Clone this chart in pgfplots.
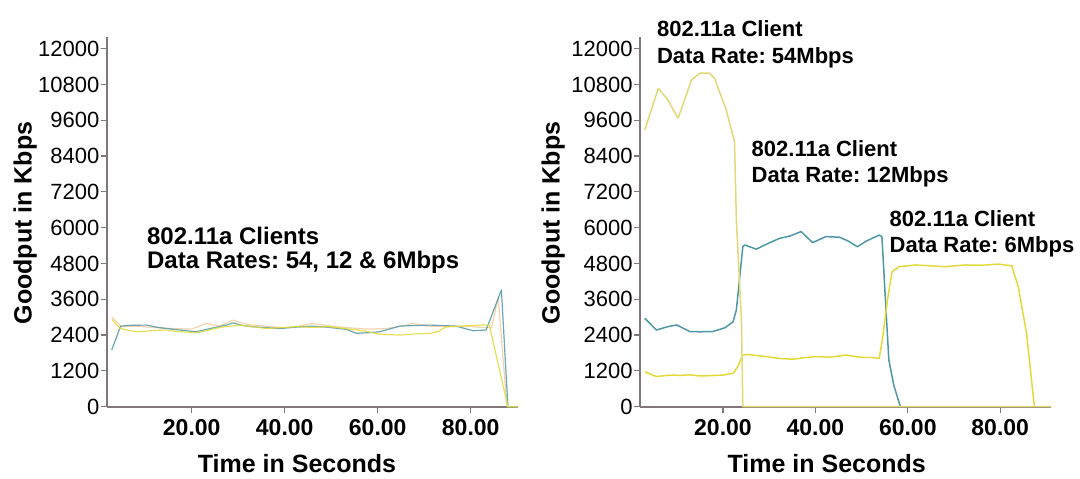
\documentclass[border=0pt]{standalone}
\usepackage{fontspec}
\setmainfont{Liberation Sans}
\usepackage{pgfplots}
\pgfplotsset{compat=1.18}
\frenchspacing

\definecolor{tealline}{RGB}{78,152,166}
\definecolor{yelline}{RGB}{226,218,58}
\definecolor{paleline}{RGB}{226,216,120}
\definecolor{peachline}{RGB}{242,204,160}
\definecolor{axisgray}{RGB}{128,118,124}

\pgfplotsset{
  goodput/.style={
    set layers,
    scale only axis,
    width=205.65pt, height=185pt,
    ymin=0, ymax=12400,
    axis lines=left,
    axis line style={-, draw=axisgray, line width=0.8pt},
    scaled y ticks=false,
    ytick={0,1200,2400,3600,4800,6000,7200,8400,9600,10800,12000},
    yticklabels={0,1200,2400,3600,4800,6000,7200,8400,9600,10800,12000},
    xtick={20,40,60,80},
    xticklabels={20.00,40.00,60.00,80.00},
    tick align=outside,
    major tick length=3pt,
    tick style={draw=axisgray, line width=0.6pt},
    yticklabel style={font=\fontsize{11}{13}\selectfont, inner sep=0.5pt},
    xticklabel style={font=\bfseries\fontsize{11.5}{13}\selectfont},
    clip=false,
    /pgf/number format/assume math mode=true,
  },
  rate/.style={line width=0.75pt, line join=round},
  thin rate/.style={line width=0.6pt, line join=round, opacity=0.85},
}

\newcommand{\lbl}{\bfseries\fontsize{12.5}{14}\selectfont}

\begin{document}
\begin{tikzpicture}
% page frame, 540pt x 238pt
\path (0,0) rectangle (540pt,238pt);

% ---------------- all three clients at once ----------------
\begin{axis}[goodput, at={(53.35pt,34.65pt)}, anchor=south west,
             xmin=1.72, xmax=90.17]
\addplot[thin rate, peachline] coordinates {
 (2.8,3010)(4.9,2680)(8,2700)(12,2650)(16,2620)(20,2600)(23.1,2790)(26,2700)
 (28.9,2900)(32,2750)(36,2700)(40,2640)(43,2700)(46.1,2790)(50,2700)(54,2640)
 (58,2600)(62,2620)(65,2700)(67.6,2790)(71,2700)(75,2680)(79,2700)(82,2660)
 (84.5,2650)(85.9,3680)(87.8,0)(90.17,0)};
\addplot[thin rate, tealline] coordinates {
 (2.8,1900)(4.7,2700)(7,2730)(10.3,2735)(13,2650)(17.4,2570)(21,2510)(24,2620)
 (27.5,2735)(28.9,2810)(31,2720)(33.2,2680)(36,2650)(38.9,2620)(42,2660)
 (46.1,2700)(50,2650)(53.3,2590)(55.4,2460)(58,2480)(60.4,2510)(62.5,2600)
 (64.7,2700)(68,2720)(71.2,2735)(74,2720)(76.9,2700)(80.5,2545)(83.3,2570)
 (84.4,3010)(86.6,3910)(88,0)(90.17,0)};
\addplot[thin rate, yelline, on layer=axis foreground] coordinates {
 (2.8,2925)(4.6,2620)(8.2,2510)(11,2540)(13.9,2570)(17,2520)(21,2480)(23.5,2560)
 (26.1,2660)(30.4,2735)(33,2680)(36.1,2620)(39,2650)(42.6,2680)(46,2660)
 (49.7,2680)(53,2620)(56.9,2545)(60.5,2430)(64.8,2400)(68,2440)(71.2,2455)
 (73,2520)(74.7,2680)(78,2700)(81.9,2735)(84,2735)(88,0)(90.17,0)};
\end{axis}

% ---------------- clients one after another ----------------
\begin{axis}[goodput, at={(320pt,34.65pt)}, anchor=south west,
             xmin=2.05, xmax=91.06]
% 12 Mbps client
\addplot[rate, tealline] coordinates {
 (3.1,2960)(5.6,2570)(8,2680)(10,2740)(12.8,2520)(15,2510)(17.8,2520)(18.9,2570)
 (20.5,2650)(22.2,2850)(22.9,3240)(24.3,5360)(24.7,5420)(27.2,5280)(29.5,5450)
 (32.2,5640)(34.5,5720)(36.9,5870)(39.4,5500)(42.3,5700)(45.2,5680)(47,5560)
 (49.1,5360)(51,5550)(53.8,5750)(54.4,5700)(55.3,3200)(55.9,1560)(57,700)
 (58.4,0)};
% 6 Mbps client
\addplot[rate, yelline] coordinates {
 (3.1,1170)(5.6,1010)(8.5,1060)(11,1050)(12.8,1070)(15,1030)(17.1,1040)(20,1060)
 (22.2,1120)(23.2,1340)(24.3,1730)(25.4,1750)(27,1720)(29.4,1680)(32,1620)
 (35.1,1590)(37.5,1640)(40.1,1680)(43,1660)(46.6,1730)(49.5,1660)(52,1650)
 (53.8,1620)(54.5,2240)(55.6,3580)(56.6,4530)(58.1,4690)(61.7,4750)(65,4720)
 (68.1,4690)(72.4,4750)(76,4740)(79.6,4780)(82.5,4720)(83.9,4020)(85.7,2460)
 (87.2,280)(87.4,0)};
% 54 Mbps client
\addplot[rate, paleline, on layer=axis foreground] coordinates {
 (3.1,9280)(6.0,10670)(8,10300)(10.3,9670)(13.2,10950)(15,11175)(17.1,11175)
 (18.2,11000)(20.7,9950)(22.5,8880)(22.9,6260)(24,2900)(24.3,0)(91.06,0)};
\end{axis}

% axis titles
\node[rotate=90, anchor=base] at (15.85pt,126.5pt) {\lbl Goodput in Kbps};
\node[rotate=90, anchor=base] at (279.75pt,126.5pt) {\lbl Goodput in Kbps};
\node[anchor=base] at (148.5pt,2pt) {\lbl Time in Seconds};
\node[anchor=base] at (413.35pt,2pt) {\lbl Time in Seconds};

% annotations
\begin{scope}[every node/.style={anchor=base west, inner sep=0pt}]
\node at (73.35pt,115.5pt)  {\bfseries\fontsize{12}{14}\selectfont 802.11a Clients};
\node at (73.35pt,103.85pt) {\bfseries\fontsize{12}{14}\selectfont Data Rates: 54, 12 \& 6Mbps};
\node at (328.35pt,219.65pt) {\bfseries\fontsize{11}{13}\selectfont 802.11a Client};
\node at (328.35pt,206.35pt) {\bfseries\fontsize{11}{13}\selectfont Data Rate: 54Mbps};
\node at (375.65pt,159.65pt) {\bfseries\fontsize{11}{13}\selectfont 802.11a Client};
\node at (375.65pt,146.65pt) {\bfseries\fontsize{11}{13}\selectfont Data Rate: 12Mbps};
\node at (444.65pt,124.85pt) {\bfseries\fontsize{11}{13}\selectfont 802.11a Client};
\node at (444.65pt,111.65pt) {\bfseries\fontsize{11}{13}\selectfont Data Rate: 6Mbps};
\end{scope}
\end{tikzpicture}
\end{document}
